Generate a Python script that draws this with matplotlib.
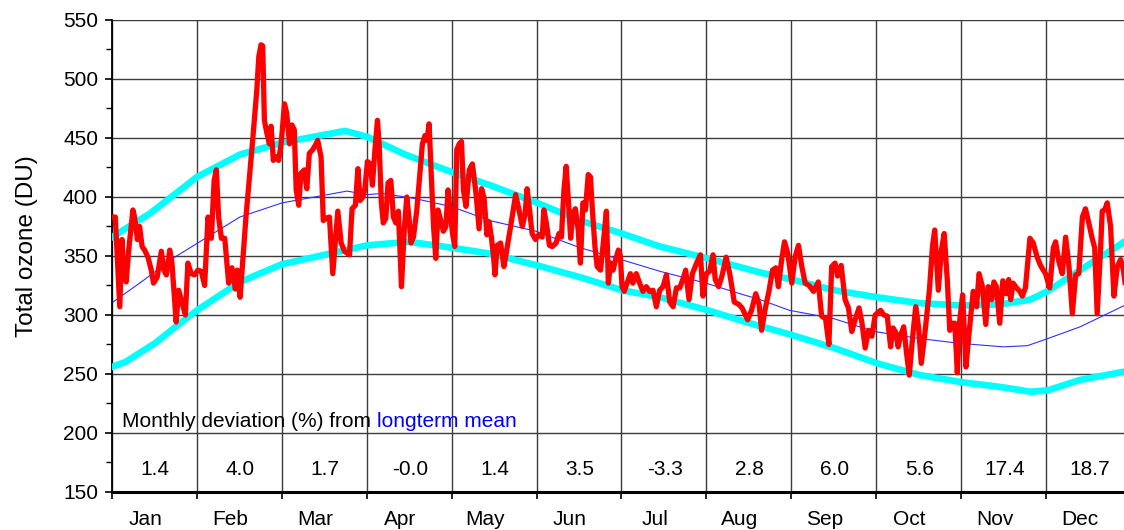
import matplotlib
matplotlib.use("Agg")
import matplotlib.pyplot as plt

# ----------------------------------
# Data (day of year, total ozone in DU)
# ----------------------------------
months = ["Jan", "Feb", "Mar", "Apr", "May", "Jun",
          "Jul", "Aug", "Sep", "Oct", "Nov", "Dec"]
deviation = ["1.4", "4.0", "1.7", "-0.0", "1.4", "3.5",
             "-3.3", "2.8", "6.0", "5.6", "17.4", "18.7"]

daily_day = [
    0.4, 1.2, 2.8, 3.6, 4.3, 5.1, 6.0, 7.5, 8.1, 9.1, 9.9, 10.8, 11.7, 12.9,
    14.1, 14.9, 16.2, 17.7, 18.6, 19.5, 20.7, 21.5, 22.2, 23.0, 23.9, 24.8,
    26.3, 27.2, 28.4, 29.6, 30.8, 32.0, 33.2, 34.4, 35.6, 36.6, 37.4, 38.2,
    39.2, 40.4, 41.8, 43.0, 44.2, 44.9, 45.9, 48.0, 50.4, 51.9, 52.6, 53.4,
    54.0, 54.6, 55.5, 56.4, 57.0, 57.8, 58.8, 59.7, 60.6, 61.8, 62.6, 63.6,
    64.5, 65.3, 66.0, 66.9, 67.7, 68.9, 69.8, 70.7, 71.9, 72.9, 73.7, 74.9,
    75.7, 76.7, 77.9, 79.1, 80.9, 82.1, 83.3, 85.1, 86.0, 87.2, 88.1, 88.9,
    89.9, 90.6, 91.5, 92.5, 93.3, 94.2, 95.1, 95.7, 96.5, 97.2, 98.1, 98.9,
    99.9, 100.8, 101.7, 102.6, 103.7, 104.7, 105.6, 106.5, 107.1, 108.0,
    109.2, 110.4, 111.2, 112.1, 112.8, 113.6, 114.4, 115.2, 116.0, 116.8,
    117.8, 118.7, 119.6, 120.4, 121.1, 122.0, 122.8, 123.5, 124.4, 125.2,
    125.9, 126.8, 128.0, 129.1, 130.4, 131.5, 132.4, 133.3, 134.3, 135.1,
    135.9, 136.7, 137.2, 138.0, 139.2, 140.4, 141.2, 142.8, 144.6, 145.8,
    147.0, 148.0, 148.7, 149.6, 150.5, 151.7, 152.9, 154.1, 154.7, 155.6,
    156.7, 157.7, 159.1, 160.1, 161.0, 161.9, 162.7, 163.4, 164.3, 165.1,
    166.0, 167.0, 167.8, 168.7, 169.6, 170.6, 171.4, 172.0, 173.0, 173.8,
    175.0, 176.2, 177.1, 177.8, 178.6, 179.5, 180.4, 181.4, 182.1, 182.7,
    183.5, 184.5, 185.7, 186.6, 187.8, 189.0, 190.2, 191.4, 192.6, 193.8,
    195.0, 196.2, 197.4, 198.6, 199.8, 201.0, 202.2, 203.4, 204.6, 205.5,
    206.7, 207.9, 209.6, 210.8, 211.7, 212.9, 214.1, 215.3, 216.1, 217.3,
    218.5, 220.0, 221.3, 222.9, 224.5, 225.7, 227.7, 229.1, 230.6, 231.8,
    232.7, 233.9, 235.4, 236.6, 237.8, 238.7, 239.9, 240.9, 242.1, 243.5,
    244.7, 245.9, 247.1, 248.3, 249.7, 251.3, 253.0, 254.2, 255.6, 256.8,
    257.8, 259.0, 259.9, 261.2, 262.6, 263.8, 265.0, 266.2, 267.6, 268.6,
    269.8, 271.0, 272.2, 273.4, 275.3, 276.5, 277.7, 278.9, 279.8, 280.8,
    281.6, 282.4, 283.6, 284.6, 285.6, 286.7, 287.9, 288.9, 289.9, 291.2,
    292.8, 293.9, 294.7, 296.0, 297.1, 298.1, 299.2, 300.1, 301.1, 301.9,
    302.8, 303.7, 304.7, 305.9, 307.1, 308.5, 309.7, 310.6, 311.8, 313.0,
    313.9, 315.1, 315.9, 316.8, 318.0, 319.1, 320.4, 321.2, 321.9, 322.8,
    324.0, 325.2, 326.1, 327.2, 328.8, 330.0, 331.4, 332.6, 334.4, 335.9,
    337.2, 338.0, 339.2, 340.4, 341.6, 342.8, 344.0, 345.2, 346.3, 347.6,
    348.7, 349.9, 351.1, 352.0, 352.9, 354.1, 354.7, 355.6, 356.5, 357.7,
    358.9, 360.1, 361.3, 362.3, 363.0,
]
daily_ozone = [
    383, 383, 307, 364, 332, 328, 355, 389, 383, 364, 375, 358, 355, 349,
    338, 327, 332, 354, 338, 334, 355, 344, 321, 294, 321, 313,
    300, 344, 335, 334, 338, 337, 325, 383, 365, 414, 423, 383,
    365, 365, 327, 340, 322, 338, 315, 383, 448, 491, 519, 529,
    528, 465, 454, 445, 460, 431, 434, 431, 445, 479, 471, 445,
    461, 457, 406, 393, 420, 423, 407, 437, 440, 444, 448, 434,
    380, 382, 383, 335, 388, 361, 354, 351, 390, 393, 424, 397,
    400, 407, 430, 428, 410, 440, 465, 445, 395, 378, 382, 412,
    414, 383, 378, 388, 324, 372, 400, 380, 361, 366,
    389, 423, 445, 452, 448, 462, 417, 375, 348, 389,
    380, 371, 375, 406, 389, 369, 358, 440, 445, 447,
    406, 392, 423, 428, 403, 373, 407, 399, 368, 379,
    366, 349, 334, 359, 361, 341, 352, 375, 402, 389,
    375, 386, 407, 389, 369, 364, 368, 366, 389, 378,
    359, 358, 361, 369, 366, 406, 426, 400, 365, 386,
    390, 372, 344, 395, 389, 419, 417, 392, 358, 341,
    338, 366, 388, 327, 344, 338, 347, 355, 350, 324,
    320, 327, 335, 327, 335, 327, 320, 324, 320, 321,
    307, 321, 324, 334, 311, 307, 323, 323, 331, 338,
    313, 335, 345, 351, 316, 335, 337, 351, 330, 324,
    333, 349, 335, 311, 309, 306, 296, 304, 318, 309,
    287, 304, 321, 338, 340, 324, 347, 362, 352, 327,
    349, 359, 341, 327, 325, 320, 328, 299, 297, 275,
    341, 344, 333, 342, 313, 306, 286, 296, 306, 294,
    272, 287, 282, 300, 304, 300, 299, 273, 289, 285,
    273, 282, 290, 268, 249, 279, 307, 290, 259, 285,
    321, 358, 372, 321, 355, 369, 330, 287, 293, 293,
    251, 296, 317, 256, 287, 320, 307, 335, 324, 292,
    324, 313, 328, 324, 293, 329, 318, 330, 313, 327,
    323, 320, 316, 323, 365, 361, 349, 342, 335, 323,
    357, 362, 345, 335, 366, 341, 301, 334, 335, 383,
    390, 378, 365, 357, 301, 355, 388, 389, 395, 375,
    316, 341, 347, 338, 325,
]

mean_day = [0.4, 10.5, 22.5, 45.8, 60.9, 84.2, 91.4, 96.7, 107.8, 121.4,
            135.4, 151.8, 167.7, 182.3, 196.3, 212.7, 225.0, 232.2, 242.6,
            258.4, 273.1, 289.5, 303.5, 319.3, 327.9, 334.0, 346.8, 362.6]
mean_ozone = [311, 328, 349, 383, 395, 405, 402, 403, 399, 392,
              380, 371, 357, 347, 337, 327, 318, 313, 304,
              297, 286, 280, 276, 273, 274, 279, 290, 308]

upper_day = [0, 13.6, 30.5, 45.9, 60.9, 74.5, 83.5, 91.4, 105.0, 121.8,
             135.4, 152.3, 167.7, 182.7, 196.3, 213.3, 232.2, 243.6, 258.7,
             274.1, 289.5, 304.5, 318.2, 328.9, 335.0, 346.8, 362.6]
upper_ozone = [366, 386, 417, 436, 446, 452, 456, 451, 436, 421,
               410, 395, 380, 369, 358, 348, 336, 330, 321,
               315, 310, 308, 309, 313, 320, 338, 362]

lower_day = [0, 4.7, 15.4, 24.4, 30.5, 45.9, 60.9, 78.1, 91.4, 106.4,
             121.8, 135.4, 152.3, 167.7, 182.7, 196.3, 213.3, 228.6, 243.6,
             258.7, 274.1, 289.5, 304.5, 318.2, 328.9, 335.0, 346.8, 362.6]
lower_ozone = [256, 260, 276, 293, 304, 328, 343, 352, 359, 362,
               357, 352, 342, 332, 321, 315, 304, 293, 283,
               272, 259, 249, 243, 239, 235, 236, 245, 252]

# ----------------------------------
# Plot
# ----------------------------------
plt.rcParams['font.family'] = ['Liberation Sans', 'DejaVu Sans']

fig = plt.figure(figsize=(11.24, 5.30), dpi=100)
ax = fig.add_axes([0.0996, 0.0717, 0.9066, 0.8906])

month_len = 365 / 12
month_starts = [i * month_len for i in range(13)]

ax.plot(upper_day, upper_ozone, color='#00ffff', lw=4.8, zorder=3)
ax.plot(lower_day, lower_ozone, color='#00ffff', lw=4.8, zorder=3)
ax.plot(mean_day, mean_ozone, color='#3030ff', lw=0.8, zorder=4)
ax.plot(daily_day, daily_ozone, color='#ff0000', lw=3.8, zorder=5,
        solid_joinstyle='round')

ax.set_xlim(0, 365)
ax.set_ylim(150, 550)

ax.set_xticks(month_starts)
ax.set_xticklabels([])
ax.set_xticks([s + 12 for s in month_starts[:12]], minor=True)
ax.set_xticklabels(months, minor=True, fontsize=15)
ax.tick_params(axis='x', which='major', direction='out', length=5, width=1.2)
ax.tick_params(axis='x', which='minor', length=0, pad=13)

ax.set_yticks(range(150, 551, 50))
ax.set_yticks(range(175, 551, 50), minor=True)
ax.tick_params(axis='y', which='major', direction='out', length=5, width=1.2,
               labelsize=15, pad=5)
ax.tick_params(axis='y', which='minor', direction='out', length=4, width=1.0)

ax.grid(True, which='major', color='#3c3c3c', lw=1.0)
ax.set_axisbelow(True)

for side in ['top', 'right']:
    ax.spines[side].set_visible(False)
ax.spines['left'].set_linewidth(1.3)
ax.spines['bottom'].set_linewidth(2.2)

ax.set_ylabel("Total ozone (DU)", fontsize=17.5)
ax.yaxis.set_label_coords(-0.073, 0.52)

# monthly deviation text
t1 = ax.text(3.6, 205.3, "Monthly deviation (%) from ", fontsize=15,
             va='baseline', ha='left', zorder=6)
ax.annotate("longterm mean", xy=(1, 0), xycoords=t1, va='bottom',
            ha='left', fontsize=15, color='#0000ff', zorder=6)

for i, d in enumerate(deviation):
    ax.text(month_starts[i] + 15.5, 164.5, d, fontsize=15,
            ha='center', va='baseline', zorder=6)

plt.savefig("out.png", dpi=100)
